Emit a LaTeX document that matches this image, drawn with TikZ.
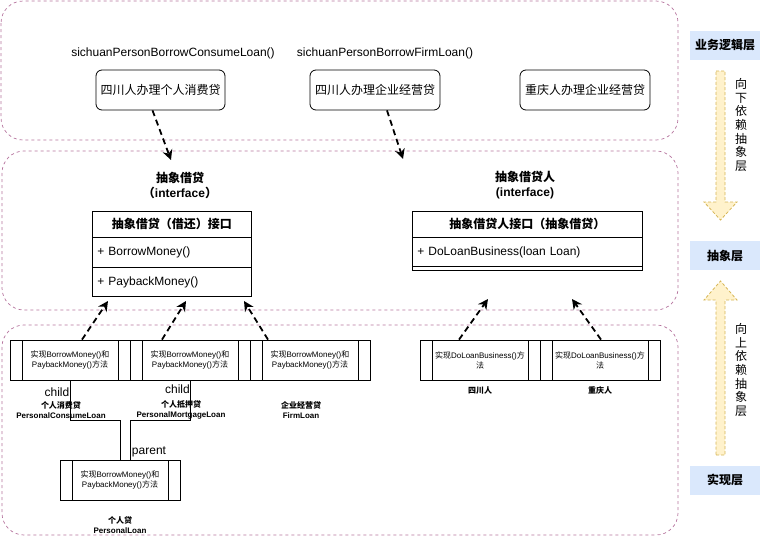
\documentclass[tikz,border=0pt]{standalone}
\usepackage{fontspec}
\setmainfont{Liberation Sans}
\newfontfamily\cjk{Noto Sans CJK SC}
\usetikzlibrary{arrows.meta}
\definecolor{layerc}{HTML}{B5739D}
\definecolor{tagfill}{HTML}{DAE8FC}
\definecolor{flowfill}{HTML}{FFF2CC}
\definecolor{flowline}{HTML}{D6B656}
\newcommand{\zh}[1]{{\cjk #1}}
\begin{document}
\begin{tikzpicture}[x=1pt,y=-1pt,
  layer/.style={draw=layerc, line width=0.7pt, dash pattern=on 3pt off 3pt, rounded corners=22pt},
  caller/.style={draw, line width=0.8pt, rounded corners=6pt, minimum height=40pt, inner sep=2pt,
    font=\fontsize{12}{14}\cjk},
  callname/.style={font=\fontsize{12}{14}\selectfont, inner sep=0pt},
  dep/.style={line width=1.8pt, dash pattern=on 6pt off 4pt, -{Stealth[length=10pt,width=10pt]}},
  ifname/.style={font=\bfseries\fontsize{12}{15}\selectfont, align=center, inner sep=0pt},
  clshead/.style={draw, line width=0.8pt, anchor=north west, minimum height=26pt, inner sep=0pt,
    font=\bfseries\fontsize{12}{14}\cjk},
  clsrow/.style={draw, line width=0.8pt, anchor=north west, inner xsep=5pt, inner ysep=0pt,
    align=left, font=\fontsize{12}{14}\selectfont},
  procbox/.style={draw, line width=0.8pt, minimum width=120pt, minimum height=40pt, inner sep=0pt,
    align=center, font=\fontsize{8}{10}\selectfont,
    path picture={
      \draw[line width=0.8pt] ([xshift=12pt]path picture bounding box.north west) -- ([xshift=12pt]path picture bounding box.south west);
      \draw[line width=0.8pt] ([xshift=-12pt]path picture bounding box.north east) -- ([xshift=-12pt]path picture bounding box.south east);
    }},
  implname/.style={font=\bfseries\fontsize{8}{10}\selectfont, align=center, inner sep=0pt},
  rolename/.style={font=\fontsize{12}{14}\selectfont, inner sep=0pt},
  tier/.style={fill=tagfill, minimum width=70pt, minimum height=29pt, inner sep=0pt,
    font=\bfseries\fontsize{12}{14}\cjk},
  flow/.style={fill=flowfill, draw=flowline, line width=0.8pt, dash pattern=on 3pt off 2pt},
  flowtext/.style={font=\fontsize{12}{13.7}\cjk, align=center, inner sep=0pt}
]
\useasboundingbox (0,0) rectangle (761,536);

% three dashed layer frames
\draw[layer] (1,1) rectangle (678,140);
\draw[layer] (2,151) rectangle (678,310);
\draw[layer] (2,325) rectangle (678,535);

% business layer callers
\node[callname] (n1) at (173,53) {sichuanPersonBorrowConsumeLoan()};
\node[callname] (n2) at (385,53) {sichuanPersonBorrowFirmLoan()};
\node[caller, minimum width=129pt] (b1) at (160.5,90) {四川人办理个人消费贷};
\node[caller, minimum width=130pt] (b2) at (375,90) {四川人办理企业经营贷};
\node[caller, minimum width=130pt] (b3) at (585,90) {重庆人办理企业经营贷};

% abstraction layer: borrowing interface
\node[ifname] (i1) at (180,185.5) {\zh{抽象借贷}\\\zh{（}interface\zh{）}};
\node[clshead, minimum width=159pt] (c1h) at (92,211) {抽象借贷（借还）接口};
\node[clsrow, text width=149pt, minimum height=30pt] (c1a) at (92,237) {+ BorrowMoney()};
\node[clsrow, text width=149pt, minimum height=29pt] (c1b) at (92,267) {+ PaybackMoney()};

% abstraction layer: borrower interface
\node[ifname] (i2) at (525,185.5) {\zh{抽象借贷人}\\(interface)};
\node[clshead, minimum width=230pt] (c2h) at (412,211) {抽象借贷人接口（抽象借贷）};
\node[clsrow, text width=220pt, minimum height=29pt] (c2a) at (412,237) {+ DoLoanBusiness(loan Loan)};
\node[clsrow, text width=220pt, minimum height=4pt] (c2b) at (412,266) {};

% callers depend on the abstraction
\coordinate (t1) at (171,160);
\coordinate (t2) at (403,159);
\draw[dep] ([xshift=-8pt]b1.south) -- (t1);
\draw[dep] ([xshift=12pt]b2.south) -- (t2);

% implementation layer
\node[procbox] (pa) at (70,360) {\zh{实现}BorrowMoney()\zh{和}\\PaybackMoney()\zh{方法}};
\node[procbox] (pb) at (190,360) {\zh{实现}BorrowMoney()\zh{和}\\PaybackMoney()\zh{方法}};
\node[procbox] (pc) at (310,360) {\zh{实现}BorrowMoney()\zh{和}\\PaybackMoney()\zh{方法}};
\node[procbox] (pd) at (120,480) {\zh{实现}BorrowMoney()\zh{和}\\PaybackMoney()\zh{方法}};
\node[procbox] (pe) at (480,360) {\zh{实现}DoLoanBusiness()\zh{方}\\\zh{法}};
\node[procbox] (pf) at (600,360) {\zh{实现}DoLoanBusiness()\zh{方}\\\zh{法}};

\node[implname] (la) at (61,410) {\zh{个人消费贷}\\PersonalConsumeLoan};
\node[implname] (lb) at (181,410) {\zh{个人抵押贷}\\PersonalMortgageLoan};
\node[implname] (lc) at (301,410) {\zh{企业经营贷}\\FirmLoan};
\node[implname] (ld) at (120,525) {\zh{个人贷}\\PersonalLoan};
\node[implname] (le) at (480,390) {\zh{四川人}};
\node[implname] (lf) at (600,390) {\zh{重庆人}};

% inheritance tree
\draw[line width=0.8pt] (pa.south) -- ++(0,40) -| (pd.north);
\draw[line width=0.8pt] (pb.south) -- ++(0,40) -| ([xshift=10pt]pd.north);
\node[rolename] (r1) at (57,392) {child};
\node[rolename] (r2) at (177.5,389) {child};
\node[rolename] (r3) at (149,452) {parent};

% implementations depend on the abstraction
\coordinate (u1) at (108,301);
\coordinate (u2) at (186,301);
\coordinate (u3) at (244,301);
\coordinate (u4) at (488,299);
\coordinate (u5) at (572,299);
\draw[dep] ([xshift=12pt]pa.north) -- (u1);
\draw[dep] ([xshift=-28pt]pb.north) -- (u2);
\draw[dep] ([xshift=-42pt]pc.north) -- (u3);
\draw[dep] ([xshift=-21pt]pe.north) -- (u4);
\draw[dep] ([xshift=1pt]pf.north) -- (u5);

% tier tags and dependency directions
\node[tier] (g1) at (725,45.5) {业务逻辑层};
\node[tier] (g2) at (725,255.5) {抽象层};
\node[tier] (g3) at (725,480) {实现层};
\draw[flow] (716,71) -- (725,71) -- (725,202) -- (737,202) -- (720.5,220) -- (704,202) -- (716,202) -- cycle;
\draw[flow] (716,455) -- (725,455) -- (725,300) -- (737,300) -- (720.5,281) -- (704,300) -- (716,300) -- cycle;
\node[flowtext] (f1) at (741,125) {向\\下\\依\\赖\\抽\\象\\层};
\node[flowtext] (f2) at (741,370) {向\\上\\依\\赖\\抽\\象\\层};
\end{tikzpicture}
\end{document}
